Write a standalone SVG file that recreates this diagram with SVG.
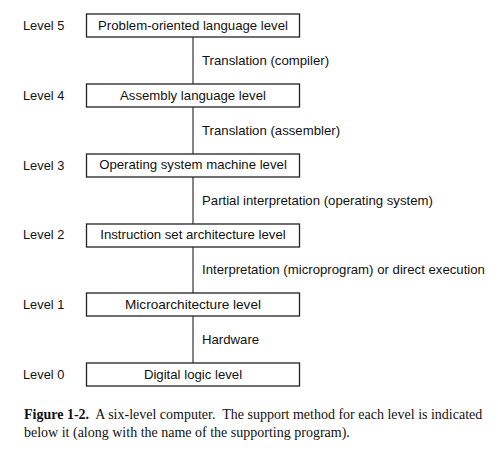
<svg xmlns="http://www.w3.org/2000/svg" width="498" height="451" viewBox="0 0 498 451">
<style>
.box{fill:#fff;stroke:#222;stroke-width:1.3}
.t{font-family:"Liberation Sans",Arial,sans-serif;font-size:13.2px;fill:#111}
.lv{font-size:12.8px}
.c{text-anchor:middle}
.line{stroke:#444;stroke-width:1.3;fill:none}
.cap{font-family:"Liberation Serif","Times New Roman",serif;font-size:14px;fill:#111}
</style>
<rect width="498" height="451" fill="#fff"/>
<g id="connectors">
<line class="line" x1="193" y1="37" x2="193" y2="84"/>
<line class="line" x1="193" y1="107" x2="193" y2="154"/>
<line class="line" x1="193" y1="177" x2="193" y2="224"/>
<line class="line" x1="193" y1="247" x2="193" y2="293"/>
<line class="line" x1="193" y1="316" x2="193" y2="363"/>
<text class="t" x="202" y="65">Translation (compiler)</text>
<text class="t" x="202" y="135">Translation (assembler)</text>
<text class="t" x="202" y="205">Partial interpretation (operating system)</text>
<text class="t" x="202" y="274">Interpretation (microprogram) or direct execution</text>
<text class="t" x="202" y="344">Hardware</text>
</g>
<g id="level5">
<text class="t lv" x="23" y="30">Level 5</text>
<rect class="box" x="86.5" y="14" width="213" height="23"/>
<text class="t c" x="193" y="30">Problem-oriented language level</text>
</g>
<g id="level4">
<text class="t lv" x="23" y="100">Level 4</text>
<rect class="box" x="86.5" y="84" width="213" height="23"/>
<text class="t c" x="193" y="100">Assembly language level</text>
</g>
<g id="level3">
<text class="t lv" x="23" y="170">Level 3</text>
<rect class="box" x="86.5" y="154" width="213" height="23"/>
<text class="t c" x="193" y="169">Operating system machine level</text>
</g>
<g id="level2">
<text class="t lv" x="23" y="239">Level 2</text>
<rect class="box" x="86.5" y="224" width="213" height="23"/>
<text class="t c" x="193" y="239">Instruction set architecture level</text>
</g>
<g id="level1">
<text class="t lv" x="23" y="309">Level 1</text>
<rect class="box" x="86.5" y="293" width="213" height="23"/>
<text class="t c" x="193" y="309" style="font-size:13.6px">Microarchitecture level</text>
</g>
<g id="level0">
<text class="t lv" x="23" y="379">Level 0</text>
<rect class="box" x="86.5" y="363" width="213" height="23"/>
<text class="t c" x="193" y="379">Digital logic level</text>
</g>
<g id="caption">
<text class="cap" x="24" y="419" xml:space="preserve"><tspan font-weight="bold">Figure 1-2.</tspan>  A six-level computer.  The support method for each level is indicated</text>
<text class="cap" x="24" y="437">below it (along with the name of the supporting program).</text>
</g>
</svg>
